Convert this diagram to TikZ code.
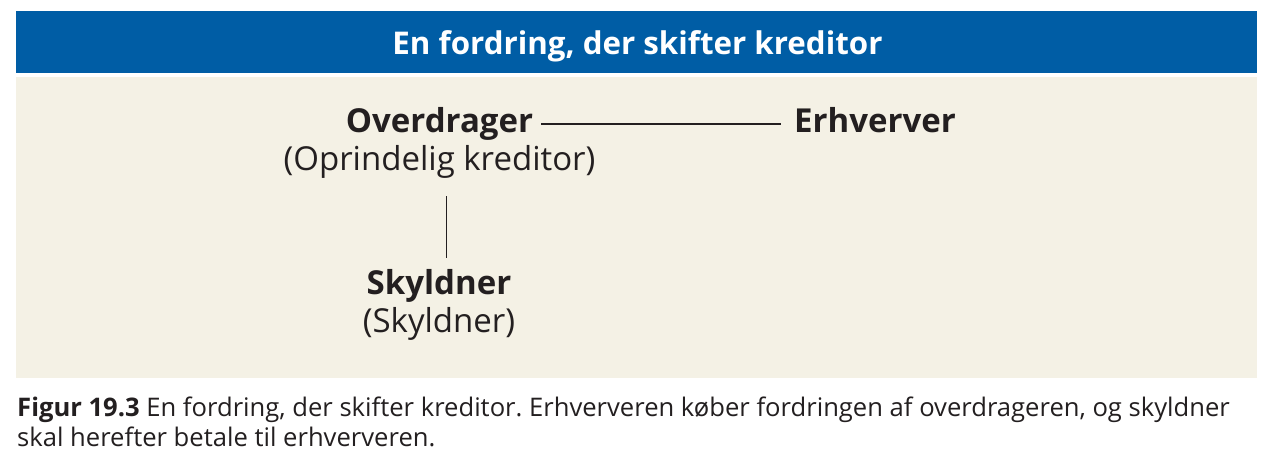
\documentclass[tikz,border=0pt]{standalone}
\usepackage{fontspec}
\setmainfont{Open Sans}
\frenchspacing
\definecolor{bannerblue}{HTML}{005DA5}
\definecolor{panelbeige}{HTML}{F4F1E5}
\definecolor{ink}{HTML}{231F20}
\begin{document}
\begin{tikzpicture}[x=1pt,y=-1pt,
  boldlbl/.style={font=\fontsize{33}{38}\selectfont\bfseries, text=ink, inner sep=0pt, anchor=base},
  reglbl/.style={font=\fontsize{33}{38}\selectfont, text=ink, inner sep=0pt, anchor=base},
  conn/.style={draw=ink, line width=1.6pt}]
\useasboundingbox (0,0) rectangle (1283,474);
\fill[white] (0,0) rectangle (1283,474);
\fill[bannerblue] (16,11) rectangle (1257,73);
\fill[panelbeige] (16,77) rectangle (1257,378);
\node[font=\fontsize{31.3}{36}\selectfont\bfseries, text=white, inner sep=0pt, anchor=base] (title) at (637.5,54) {En fordring, der skifter kreditor};
\node[boldlbl] (over) at (439.5,132) {Overdrager};
\node[reglbl] (overb) at (439.5,170) {(Oprindelig kreditor)};
\node[boldlbl] (erh) at (875,132) {Erhverver};
\node[boldlbl] (sky) at (439,294) {Skyldner};
\node[reglbl] (skyb) at (439,332) {(Skyldner)};
\coordinate (l1) at (541,124);
\coordinate (l2) at (781,124);
\draw[conn] (l1) -- (l2);
\coordinate (v1) at (446.5,196);
\coordinate (v2) at (446.5,258);
\draw[conn] (v1) -- (v2);
\node[font=\fontsize{25.6}{30}\selectfont, text=ink, inner sep=0pt, anchor=north west, align=left] (cap) at (17,397) {\textbf{Figur 19.3} En fordring, der skifter kreditor. Erhververen køber fordringen af overdrageren, og skyldner\\skal herefter betale til erhververen.};
\end{tikzpicture}
\end{document}
